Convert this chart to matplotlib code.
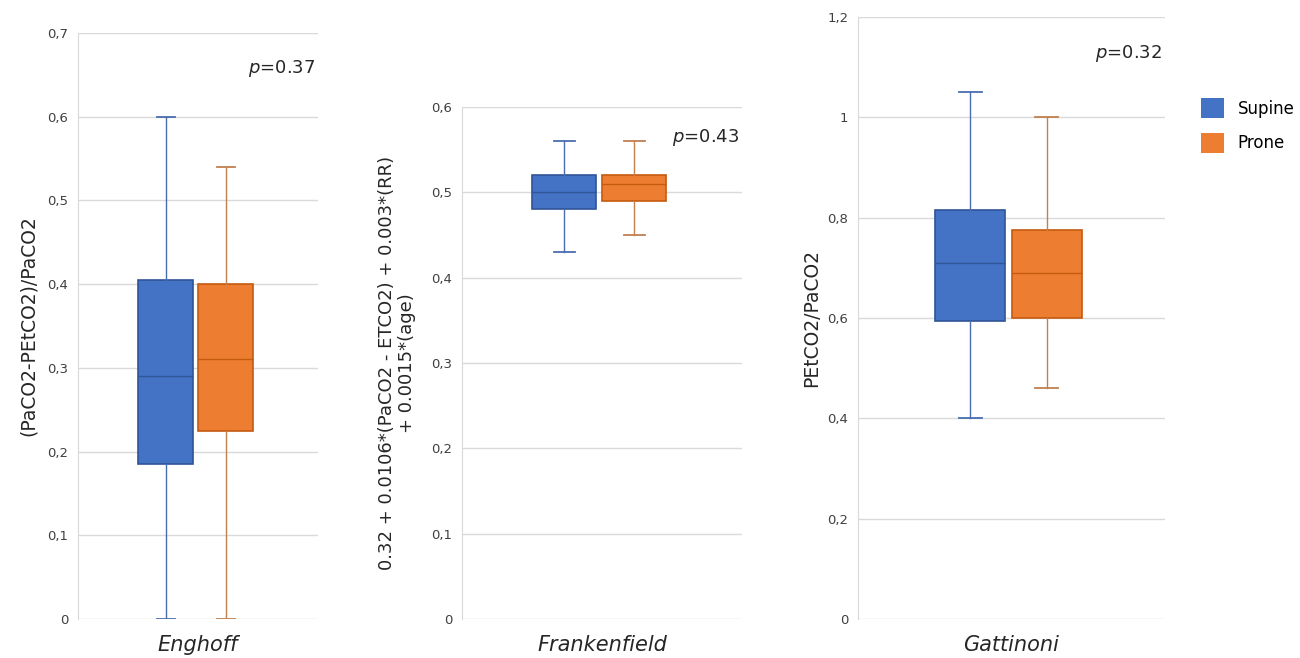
import matplotlib
matplotlib.use("Agg")
import matplotlib.pyplot as plt
from matplotlib.ticker import FuncFormatter
from matplotlib.patches import Patch

plt.rcParams['font.family'] = ['DejaVu Sans']

methods = ["Enghoff", "Frankenfield", "Gattinoni"]
groups = ["Supine", "Prone"]
ylabels = ["(PaCO2-PEtCO2)/PaCO2",
           "0.32 + 0.0106*(PaCO2 - ETCO2) + 0.003*(RR)\n+ 0.0015*(age)",
           "PEtCO2/PaCO2"]
p_values = ["0.37", "0.43", "0.32"]
ymax = [0.7, 0.6, 1.2]
ystep = [0.1, 0.1, 0.2]

# [whislo, q1, med, q3, whishi]
supine = [[0.0, 0.185, 0.29, 0.405, 0.60],
          [0.43, 0.48, 0.50, 0.52, 0.56],
          [0.40, 0.595, 0.71, 0.815, 1.05]]
prone = [[0.0, 0.225, 0.31, 0.40, 0.54],
         [0.45, 0.49, 0.51, 0.52, 0.56],
         [0.46, 0.60, 0.69, 0.775, 1.00]]

fills = ["#4472C4", "#ED7D31"]
edges = ["#2F5597", "#C55A11"]
whisk = ["#4A6DAF", "#C0804F"]

fig = plt.figure(figsize=(13, 6.58), dpi=100)
W, H = 1300, 658
axes_px = [(78, 33, 318, 619), (462, 107, 742, 619), (858, 17, 1165, 619)]
ylab_x = [28, 397, 812]

def fmt(v, pos):
    s = ("%.1f" % v).rstrip('0').rstrip('.') if v != 0 else "0"
    return s.replace('.', ',')

for i in range(3):
    l, t, r, b = axes_px[i]
    ax = fig.add_axes([l / W, 1 - b / H, (r - l) / W, (b - t) / H])
    ax.set_xlim(0, 1)
    ax.set_ylim(0, ymax[i])
    n = int(round(ymax[i] / ystep[i]))
    ax.set_yticks([k * ystep[i] for k in range(n + 1)])
    ax.yaxis.set_major_formatter(FuncFormatter(fmt))
    ax.grid(axis='y', color='#D9D9D9', lw=1)
    ax.set_axisbelow(True)
    for s in ['top', 'right', 'bottom']:
        ax.spines[s].set_visible(False)
    ax.spines['left'].set_color('#D9D9D9')
    ax.tick_params(axis='y', length=0, labelsize=9.5, labelcolor='#404040', pad=7)
    for j, data in enumerate([supine[i], prone[i]]):
        st = dict(whislo=data[0], q1=data[1], med=data[2], q3=data[3], whishi=data[4], fliers=[])
        pos = 0.365 + 0.25 * j
        ax.bxp([st], positions=[pos], widths=0.23, patch_artist=True, showfliers=False,
               boxprops=dict(facecolor=fills[j], edgecolor=edges[j], lw=1.2),
               medianprops=dict(color=edges[j], lw=1),
               whiskerprops=dict(color=whisk[j], lw=1),
               capprops=dict(color=whisk[j], lw=1.3), capwidths=0.075)
    ax.set_xlim(0, 1)
    ax.set_xticks([])
    fig.text((l + r) / 2 / W, 1 - 645 / H, methods[i], ha='center', va='center',
             fontsize=15, style='italic', color='#262626')
    fig.text(ylab_x[i] / W, 1 - (t + b) / 2 / H, ylabels[i], rotation=90, ha='center',
             va='center', fontsize=13.5 if i != 1 else 13, color='#262626',
             multialignment='center')
    ax.text(0.99, 0.94, r"$p$=" + p_values[i], transform=ax.transAxes,
            ha='right', va='center', fontsize=13, color='#262626')

handles = [Patch(facecolor=fills[k], edgecolor='none', label=groups[k]) for k in range(2)]
fig.legend(handles=handles, loc='upper left', bbox_to_anchor=(1186 / W, 1 - 83 / H),
           frameon=False, fontsize=12, handlelength=1.4, handleheight=1.5,
           labelspacing=0.85, handletextpad=0.8)

fig.savefig("out.png", dpi=100, facecolor='white')
